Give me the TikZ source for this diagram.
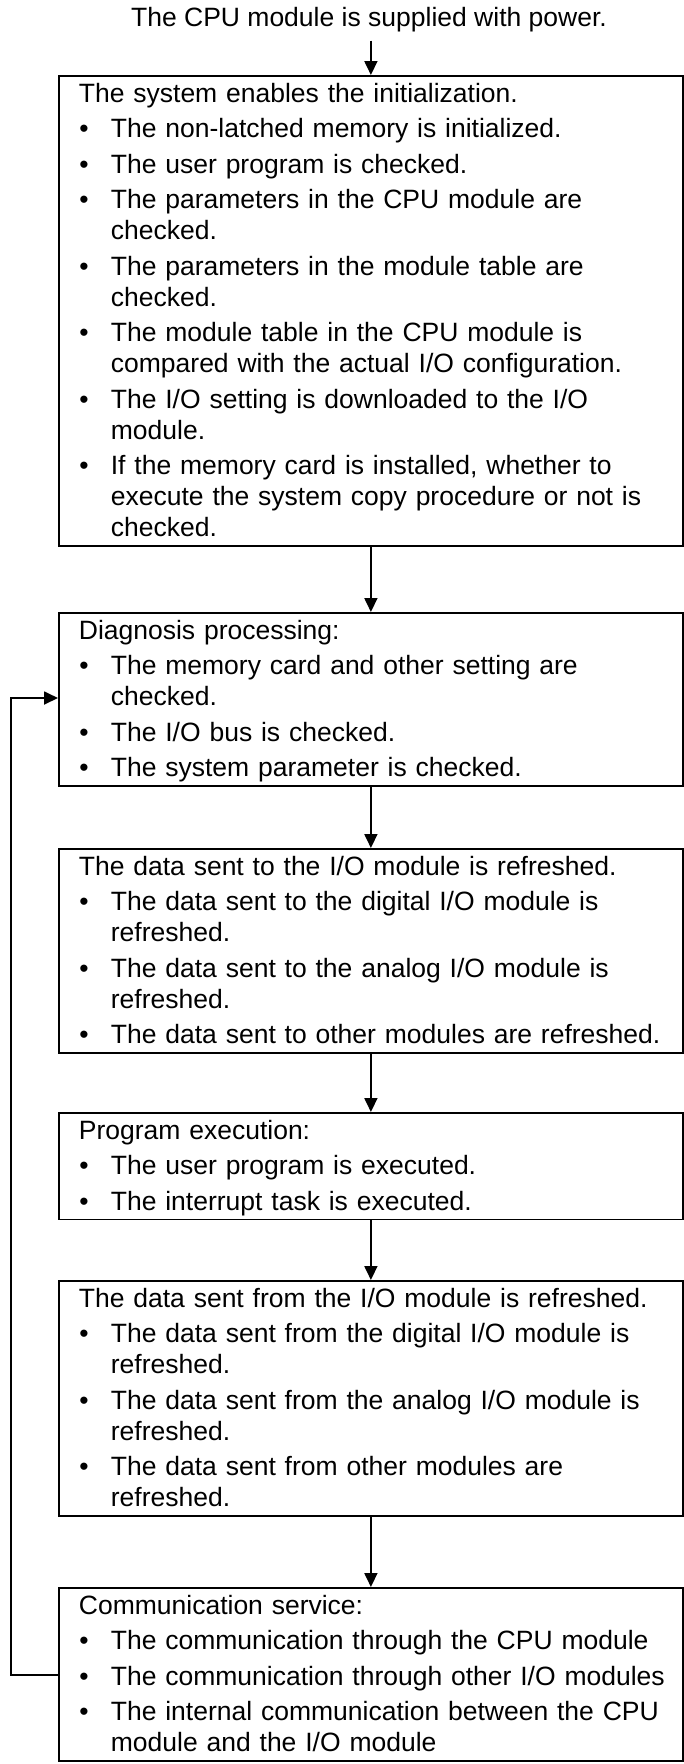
\documentclass[tikz,border=0pt]{standalone}
\usepackage{fontspec}
\setmainfont{Liberation Sans}
\usepackage{tikz}
\usetikzlibrary{arrows.meta, positioning}
\hyphenpenalty=10000
\newcommand\boxfont{\fontsize{26.5}{31}\selectfont}
\newcommand\topstrut{\leftskip=8pt\rule{0pt}{26.5pt}}
\newcommand\botstrut{\rule[-9pt]{0pt}{9pt}}
\newcommand\itm[1]{\par\vskip4.5pt\hangindent=32pt\hangafter=1\noindent\makebox[32pt][l]{\hspace{0.5pt}\textbullet}#1\par}

\begin{document}
\begin{tikzpicture}[x=1pt,y=1pt,
    box/.style={draw,line width=1.8pt,text width=600pt,inner xsep=12pt,inner ysep=0pt,align=left,font=\boxfont,anchor=north west},
    flow/.style={line width=1.8pt,-{Triangle[length=14pt,width=13pt]}}]
      \useasboundingbox(0,0)rectangle(683,-1764);
      \node[font=\boxfont,inner sep=0pt](power)at(369,-20){The CPU module is supplied with power.};
      \node[box](init)at(58,-75){\topstrut The system enables the initialization.
        \itm{The non-latched memory is initialized.}
        \itm{The user program is checked.}
        \itm{The parameters in the CPU module are\newline checked.}
        \itm{The parameters in the module table are\newline checked.}
        \itm{The module table in the CPU module is\newline compared with the actual I/O configuration.}
        \itm{The I/O setting is downloaded to the I/O\newline module.}
        \itm{If the memory card is installed, whether to\newline execute the system copy procedure or not is\newline checked.\botstrut}};
      \node[box](diag)at(58,-612){\topstrut Diagnosis processing:
        \itm{The memory card and other setting are\newline checked.}
        \itm{The I/O bus is checked.}
        \itm{The system parameter is checked.\botstrut}};
      \node[box](sendto)at(58,-848){\topstrut The data sent to the I/O module is refreshed.
        \itm{The data sent to the digital I/O module is\newline refreshed.}
        \itm{The data sent to the analog I/O module is\newline refreshed.}
        \itm{The data sent to other modules are refreshed.\botstrut}};
      \node[box](exec)at(58,-1112){\topstrut Program execution:
        \itm{The user program is executed.}
        \itm{The interrupt task is executed.\botstrut}};
      \node[box](sendfrom)at(58,-1280){\topstrut The data sent from the I/O module is refreshed.
        \itm{The data sent from the digital I/O module is\newline refreshed.}
        \itm{The data sent from the analog I/O module is\newline refreshed.}
        \itm{The data sent from other modules are\newline refreshed.\botstrut}};
      \node[box](comm)at(58,-1587){\topstrut Communication service:
        \itm{The communication through the CPU module}
        \itm{The communication through other I/O modules}
        \itm{The internal communication between the CPU\newline module and the I/O module\botstrut}};
      \draw[flow]([yshift=-8pt]init.north|-power.south)--(init.north);
      \draw[flow](init.south)--(diag.north);
      \draw[flow](diag.south)--(sendto.north);
      \draw[flow](sendto.south)--(exec.north);
      \draw[flow](exec.south)--(sendfrom.north);
      \draw[flow](sendfrom.south)--(comm.north);
      \draw[flow]([yshift=-88pt]comm.north west)--++(-47,0)|-([yshift=-86pt]diag.north west);
    \end{tikzpicture}
\end{document}
